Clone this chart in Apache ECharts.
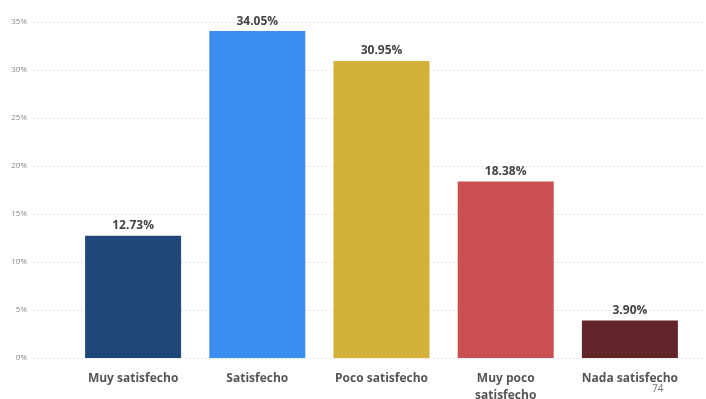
<!DOCTYPE html>
<html><head><meta charset="utf-8">
<script src="https://cdn.jsdelivr.net/npm/echarts@6/dist/echarts.min.js"></script>
<style>html,body{margin:0;padding:0;background:#fff}#c{width:706px;height:399px}</style>
</head><body><div id="c"></div>
<script>
const categories = ['Muy satisfecho', 'Satisfecho', 'Poco satisfecho', 'Muy poco\nsatisfecho', 'Nada satisfecho'];
const values = [12.73, 34.05, 30.95, 18.38, 3.90];
const colors = ['#1f4778', '#3b8ef0', '#d4b23a', '#c94f50', '#62252a'];
const yTicks = [0, 5, 10, 15, 20, 25, 30, 35];

const chart = echarts.init(document.getElementById('c'));
chart.setOption({
  backgroundColor: '#fff',
  animation: false,
  grid: [
    {left: 33, right: 1, top: 22, bottom: 41, containLabel: false, outerBoundsMode: 'none'},
    {left: 71, right: 14, top: 22, bottom: 41, containLabel: false, outerBoundsMode: 'none'}
  ],
  xAxis: [
    {gridIndex: 0, type: 'value', show: false, min: 0, max: 1},
    {gridIndex: 1, type: 'category', data: categories,
     axisLine: {show: false}, axisTick: {show: false},
     axisLabel: {interval: 0, color: '#555', fontWeight: 'bold', fontSize: 12, fontFamily: 'Open Sans', margin: 12, lineHeight: 17}}
  ],
  yAxis: [
    {gridIndex: 0, type: 'value', min: 0, max: 35, interval: 5,
     axisLine: {show: false}, axisTick: {show: false},
     axisLabel: {formatter: v => yTicks.includes(v) ? v + '%' : '', color: '#888', fontSize: 8, margin: 6, fontFamily: 'Open Sans'},
     splitLine: {lineStyle: {color: '#e6e6e6', type: [2, 2], width: 1}}},
    {gridIndex: 1, type: 'value', min: 0, max: 35, interval: 5, show: false, splitLine: {show: false}}
  ],
  series: [{
    type: 'bar', xAxisIndex: 1, yAxisIndex: 1,
    barWidth: 96,
    data: values.map((v, i) => ({value: v, itemStyle: {color: colors[i]}})),
    label: {show: true, position: 'top', distance: 4, formatter: p => p.value.toFixed(2) + '%',
            color: '#444', fontWeight: 'bold', fontSize: 12, fontFamily: 'Open Sans'}
  }],
  graphic: [
    {type: 'text', left: 652, top: 384, style: {text: '74', fill: '#777', fontSize: 10, fontFamily: 'Open Sans'}}
  ]
});
</script></body></html>
